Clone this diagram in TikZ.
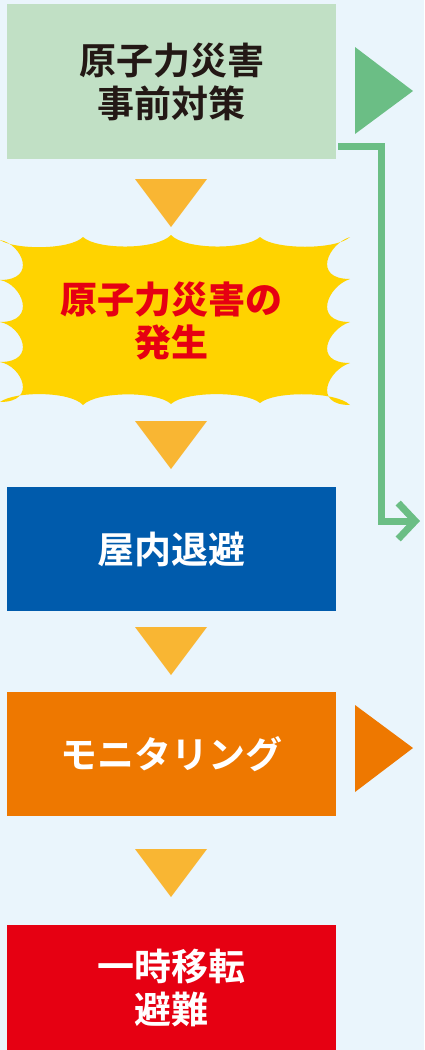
\documentclass[tikz,border=0pt]{standalone}
\usepackage{fontspec}
\newfontfamily\jp{Noto Sans CJK JP}[BoldFont={* Bold}]
\newfontfamily\jpblack{Noto Sans CJK JP Black}
\usetikzlibrary{calc,arrows.meta}
\definecolor{bgc}{RGB}{234,245,252}
\definecolor{boxgreen}{RGB}{193,224,197}
\definecolor{arrgreen}{RGB}{107,190,133}
\definecolor{triyel}{RGB}{249,182,51}
\definecolor{burstyel}{RGB}{255,211,0}
\definecolor{boxblue}{RGB}{0,91,172}
\definecolor{boxorange}{RGB}{238,120,0}
\definecolor{boxred}{RGB}{230,0,18}
\definecolor{darktext}{RGB}{35,24,21}
\tikzset{
  stagebox/.style={rectangle, inner sep=0pt, minimum width=329pt, align=center,
    font=\jp\bfseries\fontsize{37}{43}\selectfont},
  downtri/.style={fill=triyel},
  conn/.style={draw=arrgreen, line width=7pt, line join=miter,
    -{Straight Barb[length=17pt,width=36pt]}},
}
\begin{document}
\begin{tikzpicture}[x=1pt,y=-1pt]
\fill[bgc] (0,0) rectangle (424,1050);
\useasboundingbox (0,0) rectangle (424,1050);

% boxes
\node[stagebox, fill=boxgreen, minimum height=155pt, text=darktext] (b1) at (171.5,81.5) {原子力災害\\事前対策};
\node[stagebox, fill=boxblue, minimum height=124pt, text=white] (b3) at (171.5,549) {屋内退避};
\node[stagebox, fill=boxorange, minimum height=124pt, text=white] (b4) at (171.5,754) {モニタリング};
\node[stagebox, fill=boxred, minimum height=125pt, text=white] (b5) at (171.5,987.5) {一時移転\\避難};

% burst
\fill[burstyel] (0,240)
  .. controls (15,250) and (70,250) .. (83,237)
  .. controls (97,250) and (157,250) .. (171,235)
  .. controls (185,250) and (246,250) .. (260,237)
  .. controls (274,250) and (336,250) .. (350,237)
  .. controls (328,244) and (312,279) .. (350,279)
  .. controls (328,286) and (312,322) .. (350,322)
  .. controls (328,329) and (312,363) .. (350,363)
  .. controls (328,370) and (312,405) .. (350,405)
  .. controls (336,391) and (274,391) .. (260,403)
  .. controls (246,391) and (185,391) .. (171,404)
  .. controls (157,391) and (97,391) .. (83,405)
  .. controls (70,391) and (15,391) .. (0,402)
  .. controls (38,402) and (22,366) .. (0,362)
  .. controls (38,362) and (22,326) .. (0,322)
  .. controls (38,322) and (22,284) .. (0,280)
  .. controls (38,280) and (22,244) .. (0,240) -- cycle;
\node[stagebox, minimum height=0pt, text=boxred, font=\jpblack\fontsize{37}{43}\selectfont] (b2) at (171.5,321) {原子力災害の\\発生};

% down triangles
\fill[downtri] (135,179) -- (207,179) -- (171,227) -- cycle;
\fill[downtri] (135,421) -- (207,421) -- (171,469) -- cycle;
\fill[downtri] (135,627) -- (207,627) -- (171,675) -- cycle;
\fill[downtri] (135,849) -- (207,849) -- (171,897) -- cycle;

% side triangles
\fill[arrgreen] (355,47) -- (413,91) -- (355,134) -- cycle;
\fill[boxorange] (355,705) -- (413,748) -- (355,792) -- cycle;

% connector
\coordinate (cend) at (420,521);
\draw[conn] ($(b1.south east)+(2,-13)$) -| ($(cend)+(-39,0)$) -- (cend);
\end{tikzpicture}
\end{document}
